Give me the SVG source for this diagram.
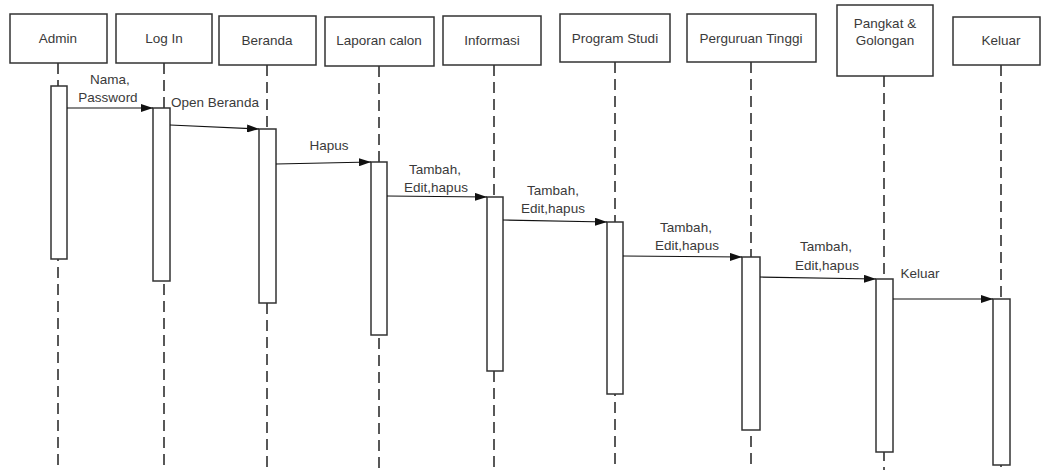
<svg xmlns="http://www.w3.org/2000/svg" width="1044" height="470" viewBox="0 0 1044 470">
<defs>
<style>
.box{fill:#fff;stroke:#333;stroke-width:1.5}
.act{fill:#fff;stroke:#333;stroke-width:1.5}
.life{stroke:#222;stroke-width:1.5;stroke-dasharray:11,6;fill:none}
.msg{stroke:#111;stroke-width:1.2;fill:none;marker-end:url(#ah)}
text{font-family:"Liberation Sans",Arial,sans-serif;font-size:13.5px;fill:#3a3a3a;text-anchor:middle}
</style>
<marker id="ah" viewBox="0 0 12 8" refX="12" refY="4" markerWidth="12" markerHeight="8" markerUnits="userSpaceOnUse" orient="auto">
<path d="M0,0 L12,4 L0,8 Z" fill="#111"/>
</marker>
</defs>
<g id="lifelines">
<line class="life" x1="58" y1="63" x2="58" y2="470"/>
<line class="life" x1="164" y1="63" x2="164" y2="470"/>
<line class="life" x1="267" y1="65" x2="267" y2="470"/>
<line class="life" x1="379" y1="66" x2="379" y2="470"/>
<line class="life" x1="494" y1="65" x2="494" y2="470"/>
<line class="life" x1="615" y1="62" x2="615" y2="470"/>
<line class="life" x1="751" y1="62" x2="751" y2="470"/>
<line class="life" x1="884" y1="76" x2="884" y2="470"/>
<line class="life" x1="1001" y1="65" x2="1001" y2="470"/>
</g>
<g id="admin"><rect class="box" x="10" y="14" width="97" height="49"/><text x="58" y="43">Admin</text><rect class="act" x="51" y="86" width="16" height="173"/></g>
<g id="login"><rect class="box" x="116" y="14" width="96" height="49"/><text x="164" y="43">Log In</text><rect class="act" x="153" y="108" width="17" height="173"/></g>
<g id="beranda"><rect class="box" x="219" y="16" width="97" height="49"/><text x="267" y="45">Beranda</text><rect class="act" x="259" y="129" width="17" height="174"/></g>
<g id="laporan"><rect class="box" x="325" y="17" width="109" height="49"/><text x="379" y="45">Laporan calon</text><rect class="act" x="371" y="162" width="16" height="173"/></g>
<g id="informasi"><rect class="box" x="443" y="16" width="98" height="49"/><text x="492" y="45">Informasi</text><rect class="act" x="487" y="197" width="16" height="174"/></g>
<g id="prodi"><rect class="box" x="560" y="14" width="110" height="48"/><text x="615" y="43">Program Studi</text><rect class="act" x="607" y="222" width="16" height="172"/></g>
<g id="pt"><rect class="box" x="687" y="14" width="129" height="48"/><text x="751" y="43">Perguruan Tinggi</text><rect class="act" x="742" y="257" width="18" height="173"/></g>
<g id="pangkat"><rect class="box" x="837" y="5" width="96" height="71"/><text x="885" y="28">Pangkat &amp;</text><text x="885" y="45">Golongan</text><rect class="act" x="876" y="279" width="17" height="173"/></g>
<g id="keluar"><rect class="box" x="953" y="17" width="87" height="48"/><text x="1001" y="45">Keluar</text><rect class="act" x="993" y="299" width="17" height="166"/></g>
<g id="connectors">
<line class="msg" x1="67" y1="108" x2="153" y2="108"/>
<line class="msg" x1="170" y1="125" x2="259" y2="129"/>
<line class="msg" x1="276" y1="164" x2="371" y2="162"/>
<line class="msg" x1="387" y1="196" x2="487" y2="197"/>
<line class="msg" x1="503" y1="220" x2="607" y2="222"/>
<line class="msg" x1="623" y1="256" x2="742" y2="257"/>
<line class="msg" x1="760" y1="277" x2="876" y2="279"/>
<line class="msg" x1="893" y1="299" x2="993" y2="299"/>
<text x="110" y="84">Nama,</text>
<text x="108" y="102">Password</text>
<text x="215" y="107">Open Beranda</text>
<text x="329" y="150">Hapus</text>
<text x="435" y="174">Tambah,</text>
<text x="436" y="192">Edit,hapus</text>
<text x="553" y="195">Tambah,</text>
<text x="553" y="213">Edit,hapus</text>
<text x="686" y="232">Tambah,</text>
<text x="687" y="250">Edit,hapus</text>
<text x="826" y="251">Tambah,</text>
<text x="827" y="270">Edit,hapus</text>
<text x="920" y="278">Keluar</text>
</g>
</svg>
